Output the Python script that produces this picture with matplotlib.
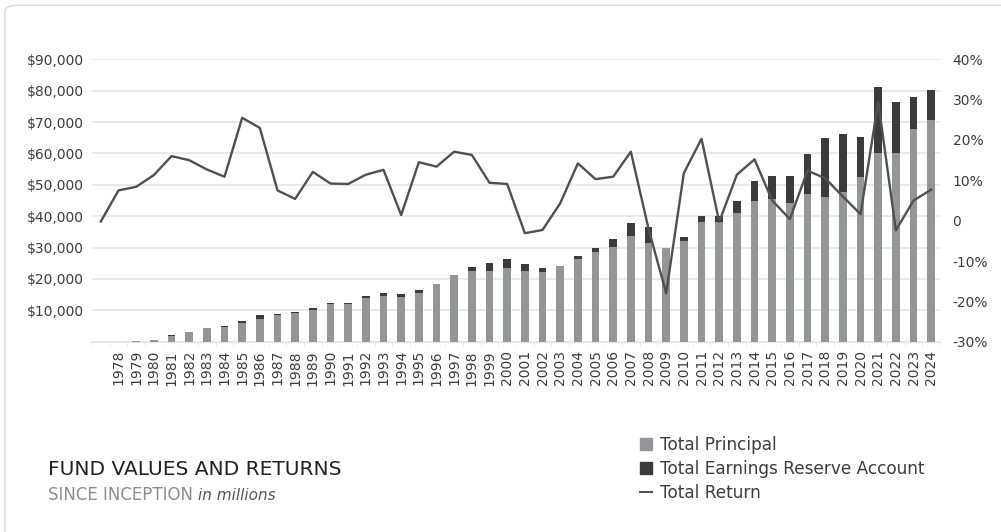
import numpy as np
import matplotlib.pyplot as plt
from matplotlib.patches import FancyBboxPatch

plt.rcParams['font.family'] = ['DejaVu Sans']

years = list(range(1978, 2025))
principal = [50, 150, 550, 1900, 3100, 4300, 4700, 6100, 7300, 8400, 9000, 10200,
             11900, 11900, 14000, 14600, 14100, 15400, 18400, 21200, 22600, 22600,
             23500, 22600, 22200, 24100, 26500, 28500, 30300, 33700, 31300, 29900,
             32000, 38000, 38300, 40900, 44900, 45500, 44300, 47000, 46000, 47800,
             52400, 60100, 60100, 67700, 70700]
total_value = [60, 170, 600, 2000, 3200, 4500, 5100, 6600, 8400, 8900, 9500, 10600,
               12400, 12400, 14600, 15400, 15200, 16600, 18400, 21200, 23700, 25000,
               26400, 24800, 23400, 24100, 27300, 30000, 32800, 37900, 36400, 29900,
               33300, 40100, 40100, 44800, 51200, 52700, 52700, 59700, 64800, 66200,
               65200, 81100, 76400, 78000, 80300]
earnings = [t - p for t, p in zip(total_value, principal)]

# return line starts one slot before the first bar
return_years = list(range(1977, 2025))
total_return = [-0.2, 7.5, 8.4, 11.3, 16.0, 15.0, 12.7, 10.9, 25.5, 23.0, 7.5, 5.4,
                12.1, 9.2, 9.1, 11.4, 12.6, 1.4, 14.5, 13.4, 17.1, 16.3, 9.4, 9.1,
                -3.1, -2.3, 4.3, 14.2, 10.3, 10.9, 17.1, -2.0, -18.0, 11.8, 20.3,
                -0.3, 11.4, 15.2, 5.0, 0.4, 12.4, 10.5, 6.0, 1.6, 29.5, -2.4, 5.0, 7.7]

grid_c = '#e3e3e3'
text_c = '#3c3c3c'

fig = plt.figure(figsize=(10.01, 5.32), dpi=100)
frame = FancyBboxPatch((0.005, -0.05), 1.1, 1.04, boxstyle='round,pad=0,rounding_size=0.012',
                       transform=fig.transFigure, facecolor='white', edgecolor='#dddddd',
                       linewidth=1.2, zorder=-5)
fig.patches.append(frame)

ax = fig.add_axes([0.0919, 0.3577, 0.8472, 0.5308])
ax.set_facecolor('none')
ax.bar(years, principal, width=0.42, color='#939598', zorder=3, label='Total Principal')
ax.bar(years, earnings, width=0.42, bottom=principal, color='#3b3b3b', zorder=3,
       label='Total Earnings Reserve Account')
ax.set_xlim(1976.5, 2024.5)
ax.set_ylim(0, 90000)
ax.set_yticks(range(0, 90001, 10000))
ax.set_yticklabels([''] + ['${:,}'.format(v) for v in range(10000, 90001, 10000)])
ax.yaxis.grid(True, color=grid_c, linewidth=1.1, zorder=0)
ax.set_axisbelow(True)
ax.set_xticks(years)
ax.set_xticklabels([str(y) for y in years], rotation=90)
ax.set_xticks(np.arange(1976.5, 2024.6, 1), minor=True)
ax.tick_params(axis='x', which='major', length=0, pad=6, labelsize=10, colors=text_c)
ax.tick_params(axis='x', which='minor', length=3, color=grid_c)
ax.tick_params(axis='y', length=0, pad=6, labelsize=10, colors=text_c)
for s in ['top', 'right', 'left']:
    ax.spines[s].set_visible(False)
ax.spines['bottom'].set_color(grid_c)
ax.spines['bottom'].set_linewidth(1.1)

ax2 = ax.twinx()
ax2.plot(return_years, total_return, color='#505050', linewidth=1.7, zorder=5,
         label='Total Return')
ax2.set_ylim(-30, 40)
ax2.set_yticks(range(-30, 41, 10))
ax2.set_yticklabels(['{}%'.format(v) if v != 0 else '0' for v in range(-30, 41, 10)])
ax2.tick_params(axis='y', length=0, pad=9, labelsize=10, colors=text_c)
for s in ['top', 'right', 'left', 'bottom']:
    ax2.spines[s].set_visible(False)

# legend
handles = [plt.Rectangle((0, 0), 1, 1, color='#939598'),
           plt.Rectangle((0, 0), 1, 1, color='#3b3b3b'),
           plt.Line2D([0], [0], color='#505050', linewidth=1.5)]
labels = ['Total Principal', 'Total Earnings Reserve Account', 'Total Return']
fig.legend(handles, labels, loc='upper left', bbox_to_anchor=(0.639, 0.18), frameon=False,
           fontsize=12.2, handlelength=0.72, handleheight=0.72, handletextpad=0.5,
           labelspacing=0.34, labelcolor=text_c, borderpad=0, borderaxespad=0)

fig.text(0.048, 0.107, 'FUND VALUES AND RETURNS', fontsize=14.5, color='#222222', va='baseline')
t = fig.text(0.048, 0.06, 'SINCE INCEPTION ', fontsize=12, color='#8c8c8c', va='baseline')
fig.canvas.draw()
bb = t.get_window_extent()
fig.text(bb.x1 / fig.bbox.width, 0.06, 'in millions', fontsize=11, style='italic',
         color='#555555', va='baseline')

fig.savefig('out.png', dpi=100)
